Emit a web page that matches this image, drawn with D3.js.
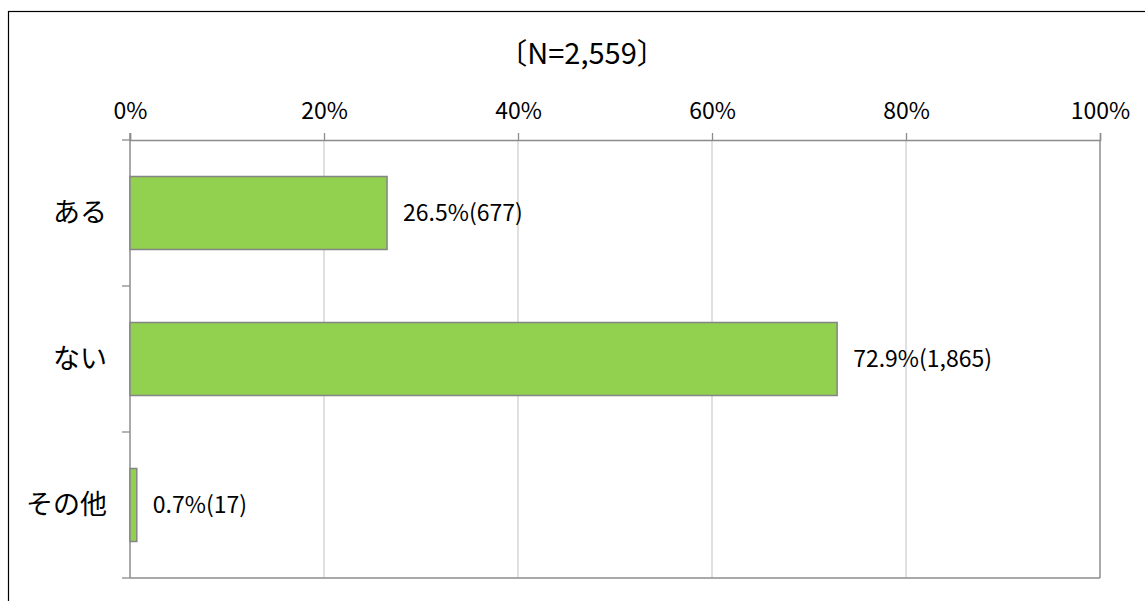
<!DOCTYPE html>
<html><head><meta charset="utf-8">
<script src="https://cdn.jsdelivr.net/npm/d3@7"></script>
<style>body{margin:0;background:#fff}svg{display:block}text{font-family:"Noto Sans CJK JP","Noto Sans",sans-serif;fill:#000}</style>
</head><body><svg id="c" width="1145" height="601"></svg>
<script>
const categories = ["ある", "ない", "その他"];
const percents = [26.5, 72.9, 0.7];
const counts = ["677", "1,865", "17"];
const tickValues = [0, 20, 40, 60, 80, 100];
const title = "〔N=2,559〕";

const svg = d3.select("#c");
const W = 1145, H = 601;
const pL = 130, pR = 1100, pT = 140, pB = 578;

// outer frame
svg.append("rect").attr("x", 8.5).attr("y", 11.5).attr("width", W + 10).attr("height", H + 10)
  .attr("fill", "none").attr("stroke", "#000").attr("stroke-width", 1.2);

const x = d3.scaleLinear().domain([0, 100]).range([pL, pR]);
const y = d3.scaleBand().domain(categories).range([pT, pB]).paddingInner(0.5).paddingOuter(0.25);
const yb = d3.scaleBand().domain(categories).range([pT, pB]);

// gridlines
svg.append("g").selectAll("line").data(tickValues.filter(v => v > 0 && v < 100)).join("line")
  .attr("x1", d => x(d)).attr("x2", d => x(d)).attr("y1", pT).attr("y2", pB)
  .attr("stroke", "#d0d0d0").attr("stroke-width", 1.3);

// plot right and bottom border
svg.append("line").attr("x1", pR).attr("x2", pR).attr("y1", pT).attr("y2", pB).attr("stroke", "#8c8c8c").attr("stroke-width", 1.5);
svg.append("line").attr("x1", pL).attr("x2", pR).attr("y1", pB).attr("y2", pB).attr("stroke", "#8c8c8c").attr("stroke-width", 1.5);

// top axis
const xAxis = d3.axisTop(x).tickValues(tickValues).tickFormat(d => d + "%").tickSize(7).tickPadding(14);
const gx = svg.append("g").attr("transform", `translate(0,${pT})`).call(xAxis);
gx.select(".domain").attr("stroke", "#8c8c8c").attr("stroke-width", 1.5);
gx.selectAll(".tick line").attr("stroke", "#8c8c8c").attr("stroke-width", 1.3);
gx.selectAll(".tick text").attr("font-size", 23).attr("font-family", '"Noto Sans CJK JP"').attr("fill", "#000");

// left axis line with category boundary ticks
svg.append("line").attr("x1", pL).attr("x2", pL).attr("y1", pT - 7).attr("y2", pB).attr("stroke", "#8c8c8c").attr("stroke-width", 1.5);
const bounds = categories.map(c => yb(c)).concat([pB]);
svg.append("g").selectAll("line").data(bounds).join("line")
  .attr("x1", pL - 8).attr("x2", pL).attr("y1", d => d).attr("y2", d => d)
  .attr("stroke", "#8c8c8c").attr("stroke-width", 1.3);

// category labels
svg.append("g").selectAll("text").data(categories).join("text")
  .attr("x", pL - 23).attr("y", d => y(d) + y.bandwidth() / 2).attr("dy", "0.35em")
  .attr("text-anchor", "end").attr("font-size", 27).text(d => d);

// bars
svg.append("g").selectAll("rect").data(categories).join("rect")
  .attr("x", x(0)).attr("y", d => y(d))
  .attr("width", (d, i) => x(percents[i]) - x(0)).attr("height", y.bandwidth())
  .attr("fill", "#92d050").attr("stroke", "#858585").attr("stroke-width", 1.5);

// value labels
svg.append("g").selectAll("text").data(categories).join("text")
  .attr("x", (d, i) => x(percents[i]) + 16).attr("y", d => y(d) + y.bandwidth() / 2).attr("dy", "0.35em")
  .attr("font-size", 23).text((d, i) => `${percents[i].toFixed(1)}%(${counts[i]})`);

// title
svg.append("text").attr("x", 582).attr("y", 54).attr("dy", "0.35em").attr("text-anchor", "middle")
  .attr("font-size", 29).text(title);
</script></body></html>
